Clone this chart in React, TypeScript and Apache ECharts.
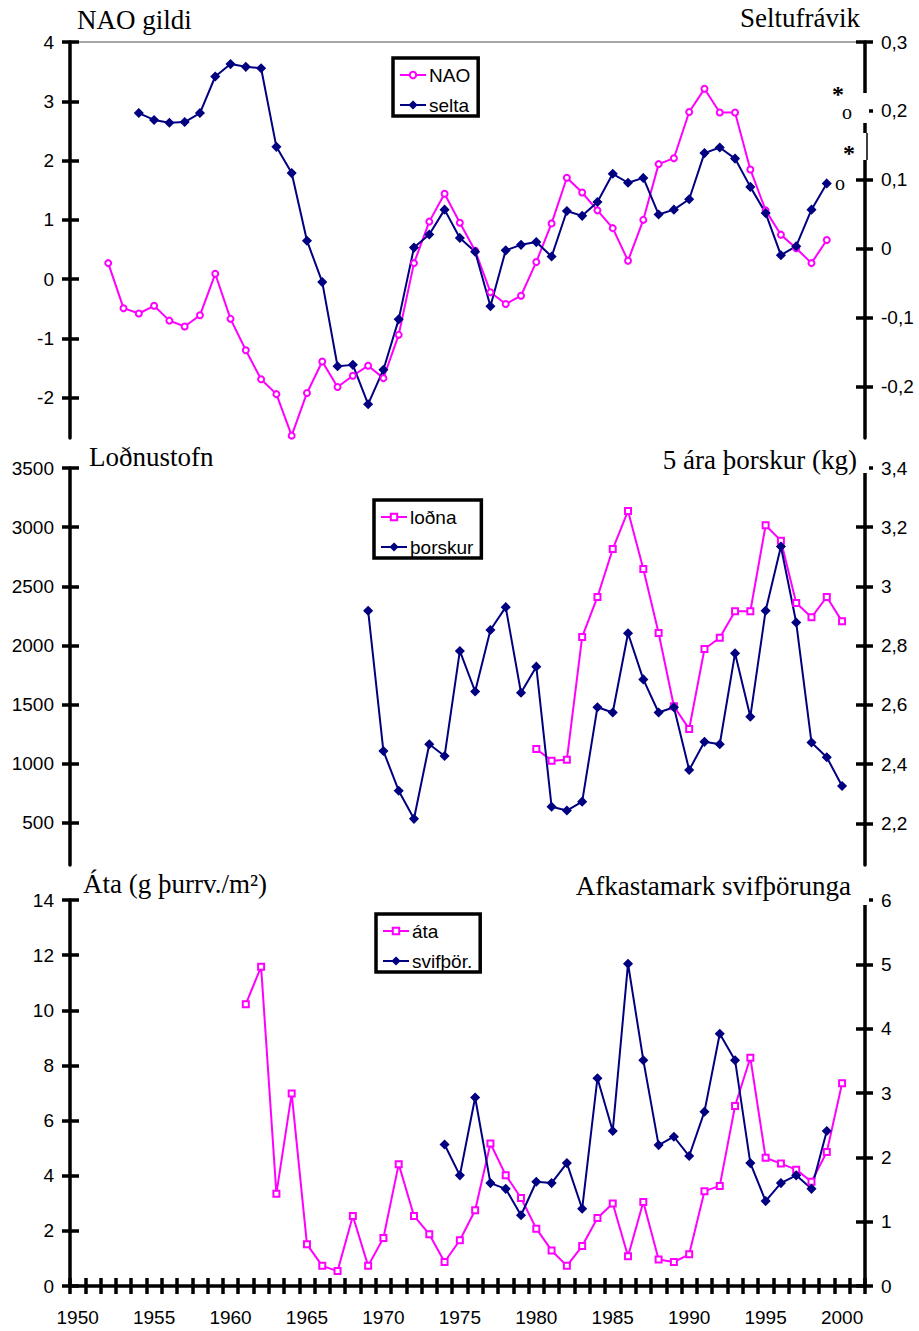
import React, { useEffect, useRef } from "react";
import * as echarts from "echarts";

// ---- categories ----
const YEARS: string[] = Array.from({ length: 52 }, (_, i) => String(1950 + i));

// ---- panel 1: NAO (left) and salinity anomaly (right) ----
const NAO_START = 1952;
const NAO = [0.27, -0.49, -0.58, -0.45, -0.7, -0.8, -0.61, 0.09, -0.67, -1.2, -1.69, -1.94, -2.64, -1.92, -1.39, -1.82, -1.63, -1.46, -1.67, -0.94, 0.27, 0.97, 1.44, 0.95, 0.48, -0.22, -0.42, -0.28, 0.29, 0.94, 1.71, 1.46, 1.16, 0.86, 0.31, 1.0, 1.94, 2.04, 2.82, 3.21, 2.81, 2.81, 1.85, 1.16, 0.75, 0.52, 0.27, 0.66];
const SELTA_START = 1954;
const SELTA = [0.197, 0.187, 0.183, 0.184, 0.197, 0.25, 0.268, 0.264, 0.262, 0.148, 0.11, 0.012, -0.048, -0.17, -0.168, -0.225, -0.175, -0.102, 0.002, 0.021, 0.057, 0.016, -0.004, -0.083, -0.002, 0.006, 0.01, -0.011, 0.055, 0.048, 0.068, 0.109, 0.096, 0.103, 0.05, 0.057, 0.072, 0.139, 0.147, 0.131, 0.09, 0.052, -0.009, 0.004, 0.057, 0.095];

// ---- panel 2: capelin stock (left) and 5-year cod weight (right) ----
const LODNA_START = 1980;
const LODNA = [1125, 1027, 1035, 2072, 2410, 2815, 3137, 2647, 2106, 1486, 1294, 1970, 2066, 2289, 2289, 3016, 2886, 2359, 2238, 2410, 2204];
const THORSKUR_START = 1969;
const THORSKUR = [2.918, 2.444, 2.31, 2.215, 2.467, 2.427, 2.782, 2.645, 2.853, 2.93, 2.641, 2.729, 2.256, 2.243, 2.273, 2.592, 2.574, 2.842, 2.686, 2.574, 2.592, 2.38, 2.475, 2.467, 2.774, 2.56, 2.918, 3.135, 2.878, 2.473, 2.423, 2.326];

// ---- panel 3: food (left) and phytoplankton production (right) ----
const ATA_START = 1961;
const ATA = [10.22, 11.58, 3.35, 6.98, 1.51, 0.73, 0.54, 2.54, 0.73, 1.74, 4.42, 2.54, 1.88, 0.87, 1.66, 2.75, 5.17, 4.02, 3.19, 2.08, 1.29, 0.73, 1.45, 2.47, 2.99, 1.08, 3.05, 0.96, 0.87, 1.15, 3.44, 3.63, 6.53, 8.28, 4.65, 4.44, 4.22, 3.78, 4.86, 7.35];
const SVIF_START = 1974;
const SVIF = [2.2, 1.72, 2.93, 1.6, 1.51, 1.1, 1.62, 1.6, 1.91, 1.2, 3.23, 2.41, 5.01, 3.51, 2.19, 2.32, 2.02, 2.71, 3.92, 3.51, 1.91, 1.32, 1.6, 1.72, 1.51, 2.41];

// ---- tick labels ----
const NAO_TICKS = [-2, -1, 0, 1, 2, 3, 4];
const SELTA_TICKS = [-0.2, -0.1, 0, 0.1, 0.2, 0.3];
const LODNA_TICKS = [500, 1000, 1500, 2000, 2500, 3000, 3500];
const THORSKUR_TICKS = [2.2, 2.4, 2.6, 2.8, 3.0, 3.2, 3.4];
const ATA_TICKS = [0, 2, 4, 6, 8, 10, 12, 14];
const SVIF_TICKS = [0, 1, 2, 3, 4, 5, 6];

const PINK = "#FF00FF";
const NAVY = "#000080";
const SANS = "'Liberation Sans', Arial, sans-serif";
const SERIF = "'Liberation Serif', 'Times New Roman', serif";

function toSeries(start: number, vals: number[]) {
  const out: (number | null)[] = YEARS.map(() => null);
  vals.forEach((v, i) => {
    const idx = start - 1950 + i;
    if (idx >= 0 && idx < out.length) out[idx] = v;
  });
  return out;
}

const comma = (v: number) => String(Math.round(v * 1000) / 1000).replace(".", ",");

function yPair(gridIndex: number, position: string, min: number, max: number, ticks: number[], fmt?: (v: number) => string) {
  const main = {
    type: "value",
    gridIndex,
    position,
    min,
    max,
    axisLine: { show: true, onZero: false, lineStyle: { color: "#000", width: 3.5 } },
    axisTick: { show: true, inside: false, length: 8, lineStyle: { color: "#000", width: 3.5 }, customValues: ticks },
    axisLabel: {
      show: true,
      customValues: ticks,
      formatter: fmt ? fmt : (v: number) => String(v),
      fontSize: 19,
      fontFamily: SANS,
      color: "#000",
      margin: 16,
    },
    splitLine: { show: false },
  };
  const dup = {
    type: "value",
    gridIndex,
    position,
    min,
    max,
    axisLine: { show: false, onZero: false },
    axisTick: { show: true, inside: true, length: 9, lineStyle: { color: "#000", width: 3.5 }, customValues: ticks },
    axisLabel: { show: false },
    splitLine: { show: false },
  };
  return [main, dup];
}

function line(name: string, xi: number, yi: number, data: (number | null)[], color: string, symbol: string, size: number) {
  return {
    name,
    type: "line",
    xAxisIndex: xi,
    yAxisIndex: yi,
    data,
    connectNulls: false,
    symbol,
    symbolSize: size,
    showAllSymbol: true,
    lineStyle: { color, width: 2 },
    itemStyle: { color, borderColor: color, borderWidth: 1.5 },
    z: 3,
  };
}

function legend(left: number, top: number, data: string[]) {
  return {
    show: true,
    left,
    top,
    orient: "vertical",
    data,
    selectedMode: false,
    borderColor: "#000",
    borderWidth: 3.5,
    backgroundColor: "#fff",
    padding: [7, 8, 1, 6],
    itemGap: 10,
    itemWidth: 26,
    itemHeight: 8,
    textStyle: { fontSize: 19, lineHeight: 20, fontFamily: SANS, color: "#000", padding: [0, 0, 0, -2] },
  };
}

function title(text: string, x: number, y: number, align: string) {
  return {
    type: "text",
    z: 100,
    style: { text, x, y, align, verticalAlign: "middle", font: `27px ${SERIF}`, fill: "#000" },
  };
}

function mark(text: string, x: number, y: number, bold: boolean) {
  return {
    type: "text",
    z: 100,
    style: { text, x, y, align: "center", verticalAlign: "middle", font: `${bold ? "bold 24px" : "20px"} ${SERIF}`, fill: "#000" },
  };
}

function whiteRect(x: number, y: number, w: number, h: number) {
  return { type: "rect", z: 100, shape: { x, y, width: w, height: h }, style: { fill: "#fff" } };
}

export default function App() {
  const ref = useRef<HTMLDivElement>(null);
  useEffect(() => {
    if (!ref.current) return;
    const chart = echarts.init(ref.current, null, { renderer: "svg" });

    const yAxes = [
      ...yPair(0, "left", -2.68, 4, NAO_TICKS),
      ...yPair(0, "right", -0.274, 0.3, SELTA_TICKS, comma),
      ...yPair(1, "left", 145, 3500, LODNA_TICKS),
      ...yPair(1, "right", 2.059, 3.4, THORSKUR_TICKS, comma),
      ...yPair(2, "left", 0, 14, ATA_TICKS),
      ...yPair(2, "right", 0, 6, SVIF_TICKS),
    ];

    const option = {
      animation: false,
      backgroundColor: "#fff",
      grid: [
        { left: 70, right: 54, top: 42, height: 396 },
        { left: 70, right: 54, top: 468, height: 397 },
        { left: 70, right: 54, top: 900, height: 386 },
      ],
      xAxis: [
        {
          type: "category",
          gridIndex: 0,
          position: "top",
          data: YEARS,
          boundaryGap: true,
          axisLine: { show: true, onZero: false, lineStyle: { color: "#8a8a8a", width: 1.5 } },
          axisTick: { show: false },
          axisLabel: { show: false },
        },
        {
          type: "category",
          gridIndex: 1,
          data: YEARS,
          boundaryGap: true,
          show: false,
        },
        {
          type: "category",
          gridIndex: 2,
          position: "bottom",
          data: YEARS,
          boundaryGap: true,
          axisLine: { show: true, onZero: false, lineStyle: { color: "#000", width: 3.5 } },
          axisTick: { show: true, interval: 0, inside: false, length: 8, lineStyle: { color: "#000", width: 3.5 } },
          axisLabel: {
            show: true,
            interval: (_i: number, v: string) => Number(v) % 5 === 0 && Number(v) <= 2000,
            fontSize: 19,
            fontFamily: SANS,
            color: "#000",
            margin: 22,
          },
        },
        {
          type: "category",
          gridIndex: 2,
          position: "bottom",
          data: YEARS,
          boundaryGap: true,
          axisLine: { show: false, onZero: false },
          axisTick: { show: true, interval: 0, inside: true, length: 8, lineStyle: { color: "#000", width: 3.5 } },
          axisLabel: { show: false },
        },
      ],
      yAxis: yAxes,
      legend: [
        legend(393, 58, ["NAO", "selta"]),
        legend(374, 500, ["loðna", "þorskur"]),
        legend(376, 914, ["áta", "svifþör."]),
      ],
      series: [
        line("NAO", 0, 0, toSeries(NAO_START, NAO), PINK, "emptyCircle", 6),
        line("selta", 0, 2, toSeries(SELTA_START, SELTA), NAVY, "diamond", 8),
        line("loðna", 1, 4, toSeries(LODNA_START, LODNA), PINK, "emptyRect", 6),
        line("þorskur", 1, 6, toSeries(THORSKUR_START, THORSKUR), NAVY, "diamond", 8),
        line("áta", 2, 8, toSeries(ATA_START, ATA), PINK, "emptyRect", 6),
        line("svifþör.", 2, 10, toSeries(SVIF_START, SVIF), NAVY, "diamond", 8),
      ],
      graphic: [
        // gaps in the right axes
        whiteRect(856, 93, 13, 30),
        whiteRect(856, 133, 13, 27),
        { type: "line", z: 101, shape: { x1: 867, y1: 133, x2: 867, y2: 160 }, style: { stroke: "#000", lineWidth: 1.5 } },
        whiteRect(856, 462, 13, 11),
        whiteRect(856, 894, 13, 11),
        // significance marks
        mark("*", 838, 94, true),
        mark("o", 847, 112, false),
        mark("*", 849, 153, true),
        mark("o", 840, 183, false),
        // axis titles
        title("NAO gildi", 77, 20, "left"),
        title("Seltufrávik", 860, 18, "right"),
        title("Loðnustofn", 89, 457, "left"),
        title("5 ára þorskur (kg)", 857, 460, "right"),
        title("Áta (g þurrv./m²)", 83, 884, "left"),
        title("Afkastamark svifþörunga", 851, 886, "right"),
      ],
    };

    chart.setOption(option as any);
    return () => chart.dispose();
  }, []);

  return (
    <div
      ref={ref}
      style={{ position: "fixed", left: 0, top: 0, width: 919, height: 1331, background: "#fff" }}
    />
  );
}
